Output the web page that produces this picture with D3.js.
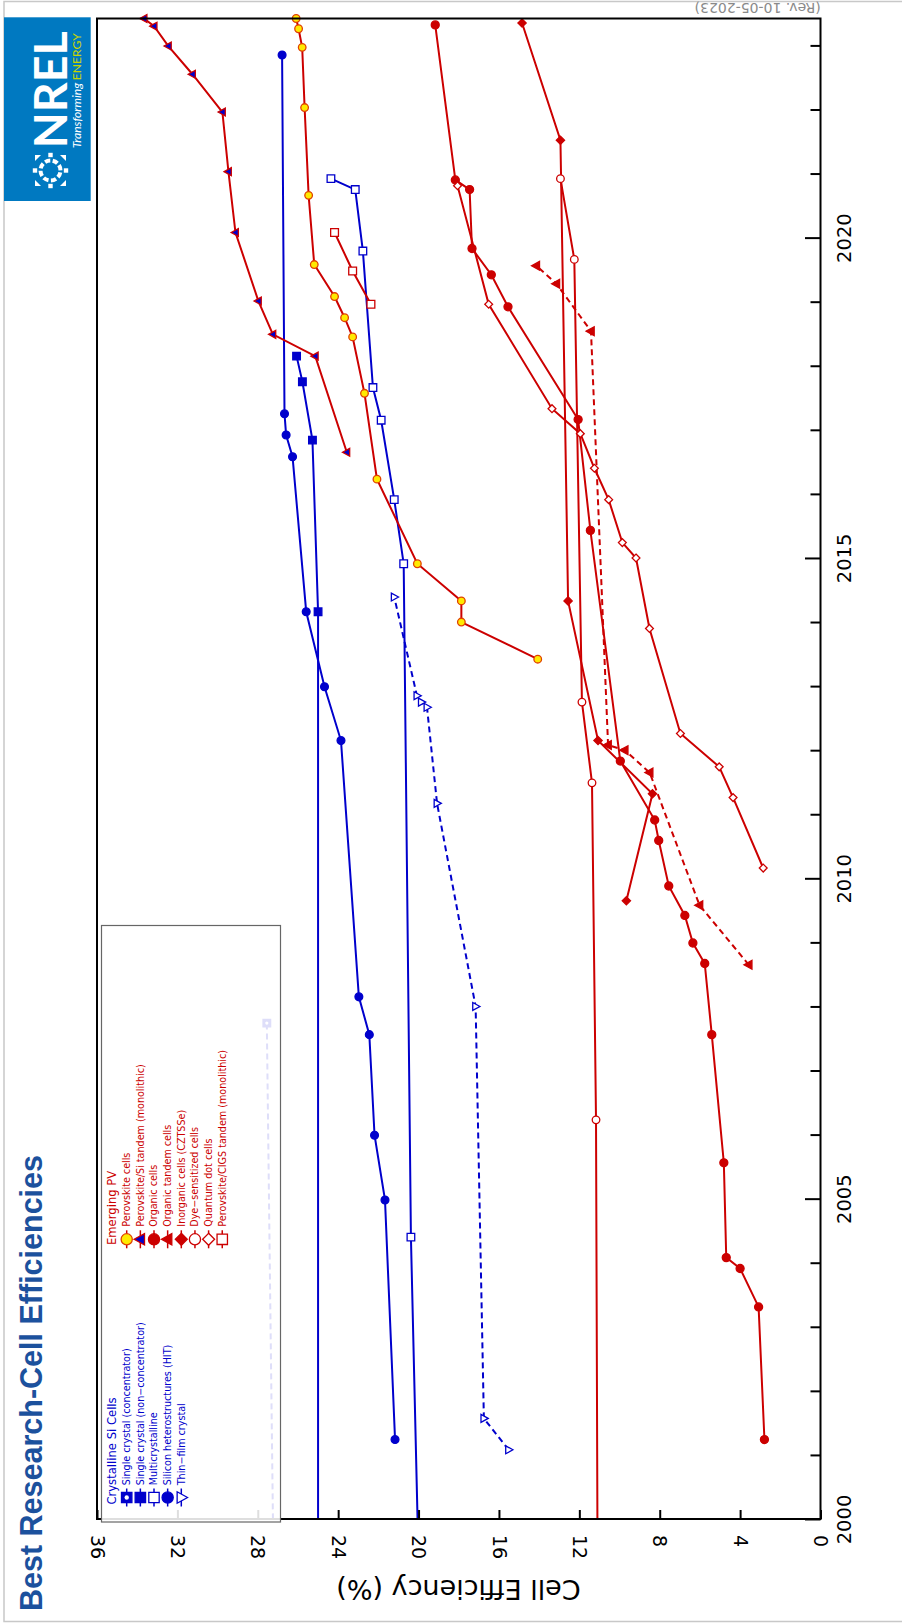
<!DOCTYPE html>
<html>
<head>
<meta charset="utf-8">
<script src="https://cdn.jsdelivr.net/npm/d3@7"></script>
<style>
  body { margin: 0; background: #fff; }
  svg { display: block; }
</style>
</head>
<body>
<svg id="chart" width="902" height="1623"></svg>
<script>
// ---------- data: [year, efficiency %] ----------
const singleCrystalConcentrator = [[1995, 27.05], [2007.74, 27.55]];
const singleCrystalNonConcentrator = [[1999, 25.0], [2014.16, 25.0], [2016.84, 25.28], [2017.75, 25.78], [2018.15, 26.07]];
const multicrystalline = [[1998, 19.9], [2004.4, 20.38], [2014.91, 20.74], [2015.91, 21.21], [2017.15, 21.86], [2017.66, 22.27], [2019.79, 22.77], [2020.75, 23.15], [2020.92, 24.36]];
const siliconHIT = [[2001.24, 21.17], [2004.98, 21.67], [2005.99, 22.19], [2007.56, 22.45], [2008.15, 22.97], [2012.15, 23.86], [2012.99, 24.68], [2014.16, 25.59], [2016.58, 26.27], [2016.92, 26.59], [2017.25, 26.67], [2022.85, 26.79]];
const thinFilmCrystal = [[2001.08, 15.52], [2001.57, 16.75], [2008.0, 17.16], [2011.17, 19.08], [2012.67, 19.58], [2012.75, 19.86], [2012.85, 20.08], [2014.39, 21.21]];

const perovskite = [[2013.42, 14.07], [2014.0, 17.87], [2014.33, 17.87], [2014.91, 20.06], [2016.23, 22.07], [2017.57, 22.69], [2018.45, 23.28], [2018.75, 23.68], [2019.08, 24.18], [2019.58, 25.19], [2020.66, 25.47], [2022.03, 25.67], [2022.97, 25.79], [2023.26, 25.97], [2023.42, 26.09]];
const perovskiteSiTandem = [[2016.65, 23.57], [2018.15, 25.14], [2018.49, 27.25], [2019.01, 27.97], [2020.08, 29.11], [2021.03, 29.46], [2021.96, 29.76], [2022.55, 31.25], [2022.99, 32.45], [2023.3, 33.16], [2023.42, 33.66]];
const organic = [[2001.24, 2.79], [2003.31, 3.08], [2003.91, 4.0], [2004.08, 4.69], [2005.56, 4.81], [2007.56, 5.41], [2008.67, 5.76], [2008.99, 6.35], [2009.42, 6.75], [2009.88, 7.55], [2010.59, 8.05], [2010.91, 8.25], [2011.83, 9.96], [2015.43, 11.45], [2017.16, 12.06], [2018.92, 15.55], [2019.42, 16.38], [2019.83, 17.34], [2020.75, 17.46], [2020.9, 18.17], [2023.32, 19.17]];
const organicTandem = [[2008.65, 3.57], [2009.58, 6.02], [2011.65, 8.5], [2012.0, 9.74], [2012.08, 10.57], [2018.54, 11.42], [2019.28, 13.14], [2019.56, 14.14]];
const inorganicCZTSSe = [[2009.65, 9.66], [2011.32, 8.36], [2012.15, 11.07], [2014.33, 12.56], [2021.52, 12.94], [2023.35, 14.85]];
const dyeSensitized = [[1991, 11.0], [2006.23, 11.17], [2011.49, 11.37], [2012.75, 11.87], [2019.66, 12.25], [2020.92, 12.94]];
const quantumDot = [[2010.16, 2.85], [2011.26, 4.35], [2011.74, 5.04], [2012.26, 6.97], [2013.9, 8.51], [2015.0, 9.18], [2015.24, 9.86], [2015.91, 10.54], [2016.4, 11.25], [2016.94, 11.95], [2017.33, 13.36], [2018.96, 16.51], [2020.81, 18.06]];
const perovskiteCIGSTandem = [[2018.96, 22.37], [2019.48, 23.28], [2020.08, 24.18]];

const yearMajorTicks = [2000, 2005, 2010, 2015, 2020];
const yearMinorTicks = [2001, 2002, 2003, 2004, 2006, 2007, 2008, 2009, 2011, 2012, 2013, 2014, 2016, 2017, 2018, 2019, 2021, 2022, 2023];
const efficiencyTicks = [0, 4, 8, 12, 16, 20, 24, 28, 32, 36];

const crystallineLabels = ["Single crystal (concentrator)", "Single crystal (non\u2212concentrator)", "Multicrystalline", "Silicon heterostructures (HIT)", "Thin\u2212film crystal"];
const emergingLabels = ["Perovskite cells", "Perovskite/Si tandem (monolithic)", "Organic cells", "Organic tandem cells", "Inorganic cells (CZTSSe)", "Dye\u2212sensitized cells", "Quantum dot cells", "Perovskite/CIGS tandem (monolithic)"];

// ---------- styling ----------
const BLUE = "#0000cc";
const RED = "#cc0000";
const YELLOW = "#ffea00";

const crystallineSeries = [
  { data: singleCrystalConcentrator, color: BLUE, marker: "squareDot", fill: BLUE, size: 3.8, dash: "6,4" },
  { data: singleCrystalNonConcentrator, color: BLUE, marker: "square", fill: BLUE, size: 3.8 },
  { data: multicrystalline, color: BLUE, marker: "square", fill: "#fff", size: 3.8 },
  { data: siliconHIT, color: BLUE, marker: "circle", fill: BLUE, size: 3.9 },
  { data: thinFilmCrystal, color: BLUE, marker: "triRight", fill: "#fff", size: 3.6, dash: "6,4" }
];
const emergingSeries = [
  { data: perovskite, color: RED, marker: "circle", fill: YELLOW, stroke: "#e04000", size: 3.8 },
  { data: perovskiteSiTandem, color: RED, marker: "triLeft", fill: BLUE, size: 3.6 },
  { data: organic, color: RED, marker: "circle", fill: RED, size: 4.0 },
  { data: organicTandem, color: RED, marker: "triLeft", fill: RED, size: 4.0, dash: "6,4" },
  { data: inorganicCZTSSe, color: RED, marker: "diamond", fill: RED, size: 3.6 },
  { data: dyeSensitized, color: RED, marker: "circle", fill: "#fff", size: 3.8 },
  { data: quantumDot, color: RED, marker: "diamond", fill: "#fff", size: 3.4 },
  { data: perovskiteCIGSTandem, color: RED, marker: "square", fill: "#fff", size: 3.9 }
];

// ---------- layout ----------
const plot = { left: 97, right: 820.5, top: 18.5, bottom: 1519 };
const yearScale = d3.scaleLinear().domain([2000, 2023.42]).range([plot.bottom, plot.top]);
const effScale = d3.scaleLinear().domain([0, 36]).range([plot.right, plot.left]);

const svg = d3.select("#chart");

// outer page border
svg.append("path")
  .attr("d", "M902,1.5 H4 V1621.5 H902")
  .attr("fill", "none").attr("stroke", "#c8c8c8").attr("stroke-width", 1.5);

// revision note (upside down along the top edge)
svg.append("text")
  .attr("transform", "translate(820.7,3.4) rotate(180)")
  .attr("font-family", "DejaVu Sans").attr("font-size", 14)
  .attr("fill", "#8a8a8a")
  .text("(Rev. 10-05-2023)");

// clip for series lines
svg.append("defs").append("clipPath").attr("id", "plotClip")
  .append("rect").attr("x", plot.left).attr("y", plot.top)
  .attr("width", plot.right - plot.left).attr("height", plot.bottom - plot.top);

// ---------- markers ----------
function markerPath(type, r) {
  switch (type) {
    case "square":
    case "squareDot":
      return `M${-r},${-r}H${r}V${r}H${-r}Z`;
    case "diamond":
      return `M0,${-r * 1.15}L${r * 1.15},0L0,${r * 1.15}L${-r * 1.15},0Z`;
    case "triLeft":
      return `M${-r * 1.2},0L${r * 0.8},${-r * 1.1}L${r * 0.8},${r * 1.1}Z`;
    case "triRight":
      return `M${r * 1.2},0L${-r * 0.8},${-r * 1.1}L${-r * 0.8},${r * 1.1}Z`;
    default:
      return null;
  }
}

function drawMarker(g, s, cx, cy, r, sw) {
  const stroke = s.stroke || s.color;
  if (s.marker === "circle") {
    g.append("circle").attr("cx", cx).attr("cy", cy).attr("r", r)
      .attr("fill", s.fill).attr("stroke", stroke).attr("stroke-width", sw);
  } else {
    g.append("path").attr("d", markerPath(s.marker, r))
      .attr("transform", `translate(${cx},${cy})`)
      .attr("fill", s.fill).attr("stroke", stroke).attr("stroke-width", sw)
      .attr("stroke-linejoin", "miter");
    if (s.marker === "squareDot") {
      g.append("circle").attr("cx", cx).attr("cy", cy).attr("r", r * 0.42).attr("fill", "#fff");
    }
  }
}

// ---------- series ----------
const line = d3.line()
  .x(d => effScale(d[1]))
  .y(d => yearScale(d[0]));

const seriesLayer = svg.append("g");
const allSeries = crystallineSeries.concat(emergingSeries);

allSeries.forEach(s => {
  seriesLayer.append("path")
    .datum(s.data)
    .attr("clip-path", "url(#plotClip)")
    .attr("d", line)
    .attr("fill", "none")
    .attr("stroke", s.color)
    .attr("stroke-width", 2)
    .attr("stroke-dasharray", s.dash || null);
});
allSeries.forEach(s => {
  const g = seriesLayer.append("g");
  s.data.filter(d => d[0] >= 2000).forEach(d => {
    drawMarker(g, s, effScale(d[1]), yearScale(d[0]), s.size, 1.3);
  });
});

// ---------- frame and axes ----------
svg.append("rect")
  .attr("x", plot.left).attr("y", plot.top)
  .attr("width", plot.right - plot.left).attr("height", plot.bottom - plot.top)
  .attr("fill", "none").attr("stroke", "#000").attr("stroke-width", 2);

// year axis along the right edge, ticks pointing inward
const yearAxis = svg.append("g").attr("transform", `translate(${plot.right},0)`)
  .call(d3.axisRight(yearScale).tickValues(yearMajorTicks).tickSize(-15.5).tickFormat(d3.format("d")));
yearAxis.select(".domain").remove();
yearAxis.selectAll("line").attr("stroke", "#000").attr("stroke-width", 2);
yearAxis.selectAll("text")
  .attr("transform", "rotate(-90)")
  .attr("x", 0).attr("y", 30).attr("dy", 0)
  .attr("text-anchor", "middle")
  .attr("font-family", "DejaVu Sans").attr("font-size", 19.5).attr("fill", "#000");

const yearMinorAxis = svg.append("g").attr("transform", `translate(${plot.right},0)`)
  .call(d3.axisRight(yearScale).tickValues(yearMinorTicks).tickSize(-10).tickFormat(""));
yearMinorAxis.select(".domain").remove();
yearMinorAxis.selectAll("line").attr("stroke", "#000").attr("stroke-width", 2);

// efficiency axis along the bottom edge
const effAxis = svg.append("g").attr("transform", `translate(0,${plot.bottom})`)
  .call(d3.axisBottom(effScale).tickValues(efficiencyTicks).tickSize(-9).tickFormat(d3.format("d")));
effAxis.select(".domain").remove();
effAxis.selectAll("line").attr("stroke", "#000").attr("stroke-width", 2);
effAxis.selectAll("text")
  .attr("transform", "rotate(90)")
  .attr("x", 16).attr("y", 0).attr("dy", "0.36em")
  .attr("text-anchor", "start")
  .attr("font-family", "DejaVu Sans").attr("font-size", 19).attr("fill", "#000");

// axis titles
svg.append("text")
  .attr("transform", "translate(458.5,1580) rotate(180)")
  .attr("text-anchor", "middle")
  .attr("font-family", "DejaVu Sans").attr("font-size", 27)
  .attr("fill", "#000")
  .text("Cell Efficiency (%)");

svg.append("text")
  .attr("transform", "translate(41.5,1611) rotate(-90)")
  .attr("font-family", "Liberation Sans").attr("font-weight", "bold").attr("font-size", 30.5)
  .attr("fill", "#1c519d")
  .text("Best Research-Cell Efficiencies");

// ---------- legend ----------
const legend = svg.append("g");
legend.append("rect")
  .attr("x", 101.5).attr("y", 925.5).attr("width", 179).attr("height", 596.5)
  .attr("fill", "#fff").attr("fill-opacity", 0.87)
  .attr("stroke", "#666").attr("stroke-width", 1.2);

function legendBlock(title, labels, series, color, titleY, markerY, textY) {
  legend.append("text")
    .attr("transform", `translate(116,${titleY}) rotate(-90)`)
    .attr("font-family", "DejaVu Sans").attr("font-size", 11.6)
    .attr("fill", color).text(title);
  labels.forEach((lab, i) => {
    const cx = 126.7 + i * 13.65;
    const s = series[i];
    legend.append("line")
      .attr("x1", cx).attr("x2", cx).attr("y1", markerY - 9).attr("y2", markerY + 9)
      .attr("stroke", s.color).attr("stroke-width", 1.5);
    drawMarker(legend, s, cx, markerY, s.marker === "circle" ? 5.6 : 5.2, 1.3);
    legend.append("text")
      .attr("transform", `translate(${cx + 3.4},${textY}) rotate(-90)`)
      .attr("font-family", "DejaVu Sans").attr("font-size", 9.6)
      .attr("fill", color).text(lab);
  });
}
legendBlock("Crystalline Si Cells", crystallineLabels, crystallineSeries, BLUE, 1504.6, 1497.5, 1485.3);
legendBlock("Emerging PV", emergingLabels, emergingSeries, RED, 1245, 1239.3, 1226.7);

// ---------- NREL logo ----------
const logo = svg.append("g");
logo.append("rect").attr("x", 4).attr("y", 17.3).attr("width", 86.7).attr("height", 183.7).attr("fill", "#0079c1");
logo.append("text")
  .attr("transform", "translate(67,148.3) rotate(-90)")
  .attr("font-family", "Lato").attr("font-weight", "bold").attr("font-size", 45)
  .attr("textLength", 117).attr("lengthAdjust", "spacingAndGlyphs")
  .attr("fill", "#fff").text("NREL");
const tag = logo.append("text")
  .attr("transform", "translate(81.3,148.3) rotate(-90)")
  .attr("font-family", "Lato").attr("font-size", 11.5)
  .attr("textLength", 115).attr("lengthAdjust", "spacingAndGlyphs");
tag.append("tspan").attr("font-style", "italic").attr("fill", "#fff").text("Transforming ");
tag.append("tspan").attr("fill", "#c8d400").text("ENERGY");
// circular emblem
const emb = logo.append("g").attr("transform", "translate(50.5,170.5)");
emb.append("circle").attr("r", 10).attr("fill", "none").attr("stroke", "#fff")
  .attr("stroke-width", 4).attr("stroke-dasharray", "5.4,2.45").attr("transform", "rotate(11)");
[[-1, -1], [1, -1], [1, 1], [-1, 1]].forEach(([sx, sy]) => {
  emb.append("path")
    .attr("d", `M${sx * 15.5},${sy * 15.5}L${sx * 9.5},${sy * 15.5}L${sx * 15.5},${sy * 9.5}Z`)
    .attr("fill", "#fff");
});
[[0, -15.5], [0, 15.5], [-15.5, 0], [15.5, 0]].forEach(([x, y]) => {
  emb.append("rect").attr("x", x - 2.2).attr("y", y - 2.2).attr("width", 4.4).attr("height", 4.4).attr("fill", "#fff");
});
</script>
</body>
</html>
